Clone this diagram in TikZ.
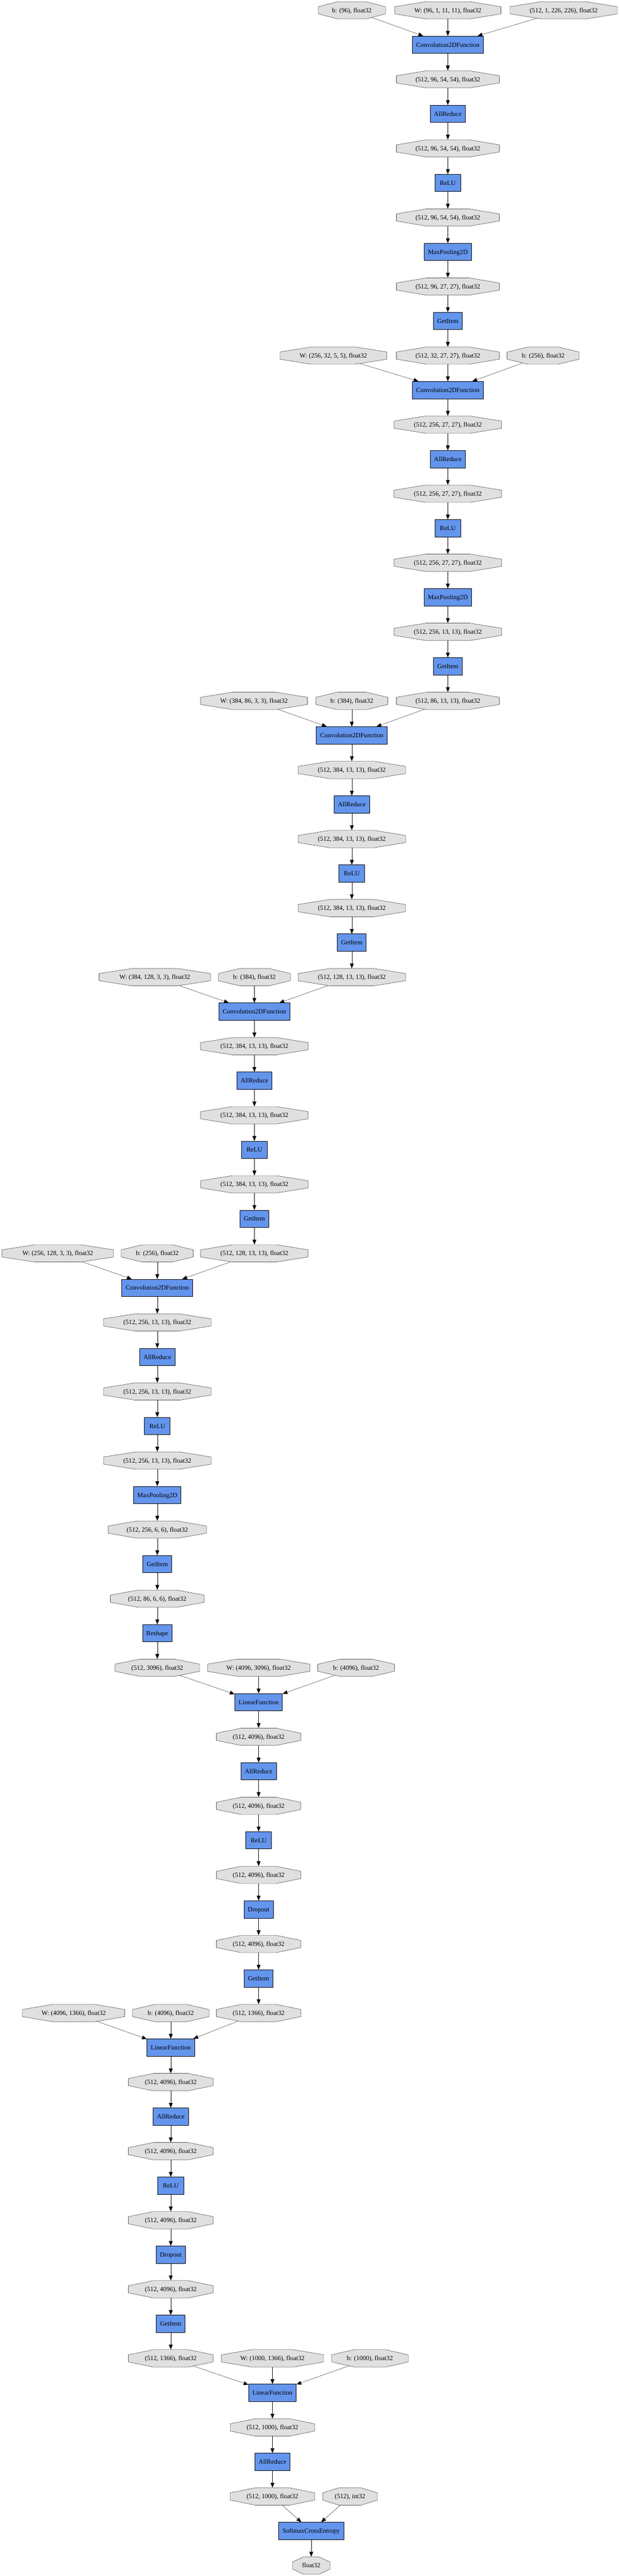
\documentclass[tikz,border=0pt]{standalone}
\usepackage{fontspec}
\setmainfont{Liberation Serif}
\usetikzlibrary{arrows.meta,calc,backgrounds}
\definecolor{funcblue}{HTML}{6495ED}
\definecolor{vargray}{HTML}{E0E0E0}
\tikzset{
	func/.style={
		rectangle, draw, fill=funcblue,
		font=\fontsize{13.5}{16}\selectfont,
		minimum width=54pt, minimum height=36pt,
		inner xsep=8pt, inner ysep=0pt,
		text height=8.9pt, text depth=0pt,
	},
	var/.style={
		rectangle,
		font=\fontsize{13.5}{16}\selectfont,
		minimum height=36pt,
		inner xsep=8pt, inner ysep=0pt,
		text height=8.9pt, text depth=0pt,
	},
	octa/.style={
		draw, fill=vargray,
	},
	line/.style={
		draw, -{Triangle[length=10pt,width=8pt]},
	}
}

\begin{document}
\begin{tikzpicture}[x=0.7397pt, y=-72pt, line width=1pt]
\useasboundingbox (0,0.702) rectangle (1747,75.304);
% conv1
\node [var] (b1) at (993,1) {b: (96), float32};
\node [var] (w1) at (1264,1) {W: (96, 1, 11, 11), float32};
\node [var] (x0) at (1591,1) {(512, 1, 226, 226), float32};
\node [func] (conv1) at (1264,2) {Convolution2DFunction};
\node [var] (v1a) at (1264,3) {(512, 96, 54, 54), float32};
\node [func] (ar1) at (1264,4) {AllReduce};
\node [var] (v1b) at (1264,5) {(512, 96, 54, 54), float32};
\node [func] (relu1) at (1264,6) {ReLU};
\node [var] (v1c) at (1264,7) {(512, 96, 54, 54), float32};
\node [func] (pool1) at (1264,8) {MaxPooling2D};
\node [var] (v1d) at (1264,9) {(512, 96, 27, 27), float32};
\node [func] (get1) at (1264,10) {GetItem};
% conv2
\node [var] (w2) at (941,11) {W: (256, 32, 5, 5), float32};
\node [var] (v1e) at (1264,11) {(512, 32, 27, 27), float32};
\node [var] (b2) at (1533,11) {b: (256), float32};
\node [func] (conv2) at (1264,12) {Convolution2DFunction};
\node [var] (v2a) at (1264,13) {(512, 256, 27, 27), float32};
\node [func] (ar2) at (1264,14) {AllReduce};
\node [var] (v2b) at (1264,15) {(512, 256, 27, 27), float32};
\node [func] (relu2) at (1264,16) {ReLU};
\node [var] (v2c) at (1264,17) {(512, 256, 27, 27), float32};
\node [func] (pool2) at (1264,18) {MaxPooling2D};
\node [var] (v2d) at (1264,19) {(512, 256, 13, 13), float32};
\node [func] (get2) at (1264,20) {GetItem};
% conv3
\node [var] (w3) at (717,21) {W: (384, 86, 3, 3), float32};
\node [var] (b3) at (993,21) {b: (384), float32};
\node [var] (v2e) at (1264,21) {(512, 86, 13, 13), float32};
\node [func] (conv3) at (993,22) {Convolution2DFunction};
\node [var] (v3a) at (993,23) {(512, 384, 13, 13), float32};
\node [func] (ar3) at (993,24) {AllReduce};
\node [var] (v3b) at (993,25) {(512, 384, 13, 13), float32};
\node [func] (relu3) at (993,26) {ReLU};
\node [var] (v3c) at (993,27) {(512, 384, 13, 13), float32};
\node [func] (get3) at (993,28) {GetItem};
% conv4
\node [var] (w4) at (437,29) {W: (384, 128, 3, 3), float32};
\node [var] (b4) at (718,29) {b: (384), float32};
\node [var] (v3d) at (993,29) {(512, 128, 13, 13), float32};
\node [func] (conv4) at (718,30) {Convolution2DFunction};
\node [var] (v4a) at (718,31) {(512, 384, 13, 13), float32};
\node [func] (ar4) at (718,32) {AllReduce};
\node [var] (v4b) at (718,33) {(512, 384, 13, 13), float32};
\node [func] (relu4) at (718,34) {ReLU};
\node [var] (v4c) at (718,35) {(512, 384, 13, 13), float32};
\node [func] (get4) at (718,36) {GetItem};
% conv5
\node [var] (w5) at (163,37) {W: (256, 128, 3, 3), float32};
\node [var] (b5) at (444,37) {b: (256), float32};
\node [var] (v4d) at (718,37) {(512, 128, 13, 13), float32};
\node [func] (conv5) at (444,38) {Convolution2DFunction};
\node [var] (v5a) at (444,39) {(512, 256, 13, 13), float32};
\node [func] (ar5) at (444,40) {AllReduce};
\node [var] (v5b) at (444,41) {(512, 256, 13, 13), float32};
\node [func] (relu5) at (444,42) {ReLU};
\node [var] (v5c) at (444,43) {(512, 256, 13, 13), float32};
\node [func] (pool5) at (444,44) {MaxPooling2D};
\node [var] (v5d) at (444,45) {(512, 256, 6, 6), float32};
\node [func] (get5) at (444,46) {GetItem};
\node [var] (v5e) at (444,47) {(512, 86, 6, 6), float32};
\node [func] (reshape) at (444,48) {Reshape};
% fc6
\node [var] (v5f) at (444,49) {(512, 3096), float32};
\node [var] (w6) at (730,49) {W: (4096, 3096), float32};
\node [var] (b6) at (1005,49) {b: (4096), float32};
\node [func] (fc6) at (730,50) {LinearFunction};
\node [var] (v6a) at (730,51) {(512, 4096), float32};
\node [func] (ar6) at (730,52) {AllReduce};
\node [var] (v6b) at (730,53) {(512, 4096), float32};
\node [func] (relu6) at (730,54) {ReLU};
\node [var] (v6c) at (730,55) {(512, 4096), float32};
\node [func] (drop6) at (730,56) {Dropout};
\node [var] (v6d) at (730,57) {(512, 4096), float32};
\node [func] (get6) at (730,58) {GetItem};
% fc7
\node [var] (w7) at (208,59) {W: (4096, 1366), float32};
\node [var] (b7) at (482,59) {b: (4096), float32};
\node [var] (v6e) at (730,59) {(512, 1366), float32};
\node [func] (fc7) at (482,60) {LinearFunction};
\node [var] (v7a) at (482,61) {(512, 4096), float32};
\node [func] (ar7) at (482,62) {AllReduce};
\node [var] (v7b) at (482,63) {(512, 4096), float32};
\node [func] (relu7) at (482,64) {ReLU};
\node [var] (v7c) at (482,65) {(512, 4096), float32};
\node [func] (drop7) at (482,66) {Dropout};
\node [var] (v7d) at (482,67) {(512, 4096), float32};
\node [func] (get7) at (482,68) {GetItem};
% fc8 and loss
\node [var] (v7e) at (482,69) {(512, 1366), float32};
\node [var] (w8) at (769,69) {W: (1000, 1366), float32};
\node [var] (b8) at (1044,69) {b: (1000), float32};
\node [func] (fc8) at (769,70) {LinearFunction};
\node [var] (v8a) at (769,71) {(512, 1000), float32};
\node [func] (ar8) at (769,72) {AllReduce};
\node [var] (v8b) at (769,73) {(512, 1000), float32};
\node [var] (t) at (988,73) {(512), int32};
\node [func] (loss) at (878.5,74) {SoftmaxCrossEntropy};
\node [var] (out) at (878.5,75) {float32};

\begin{scope}[on background layer]
% Edges
\foreach \a/\b in {b1/conv1, w1/conv1, x0/conv1, conv1/v1a, v1a/ar1, ar1/v1b, v1b/relu1, relu1/v1c, v1c/pool1, pool1/v1d, v1d/get1, get1/v1e,
	w2/conv2, v1e/conv2, b2/conv2, conv2/v2a, v2a/ar2, ar2/v2b, v2b/relu2, relu2/v2c, v2c/pool2, pool2/v2d, v2d/get2, get2/v2e,
	w3/conv3, b3/conv3, v2e/conv3, conv3/v3a, v3a/ar3, ar3/v3b, v3b/relu3, relu3/v3c, v3c/get3, get3/v3d,
	w4/conv4, b4/conv4, v3d/conv4, conv4/v4a, v4a/ar4, ar4/v4b, v4b/relu4, relu4/v4c, v4c/get4, get4/v4d,
	w5/conv5, b5/conv5, v4d/conv5, conv5/v5a, v5a/ar5, ar5/v5b, v5b/relu5, relu5/v5c, v5c/pool5, pool5/v5d, v5d/get5, get5/v5e, v5e/reshape, reshape/v5f,
	v5f/fc6, w6/fc6, b6/fc6, fc6/v6a, v6a/ar6, ar6/v6b, v6b/relu6, relu6/v6c, v6c/drop6, drop6/v6d, v6d/get6, get6/v6e,
	w7/fc7, b7/fc7, v6e/fc7, fc7/v7a, v7a/ar7, ar7/v7b, v7b/relu7, relu7/v7c, v7c/drop7, drop7/v7d, v7d/get7, get7/v7e,
	v7e/fc8, w8/fc8, b8/fc8, fc8/v8a, v8a/ar8, ar8/v8b, v8b/loss, t/loss, loss/out}
	\draw[line] (\a.center) -- (\b);
% Octagons
\foreach \v in {b1, w1, x0, v1a, v1b, v1c, v1d, w2, v1e, b2, v2a, v2b, v2c, v2d,
	w3, b3, v2e, v3a, v3b, v3c, w4, b4, v3d, v4a, v4b, v4c,
	w5, b5, v4d, v5a, v5b, v5c, v5d, v5e, v5f, w6, b6, v6a, v6b, v6c, v6d,
	w7, b7, v6e, v7a, v7b, v7c, v7d, v7e, w8, b8, v8a, v8b, t, out}
	\filldraw[octa] let \p1=($(\v.east)-(\v.center)$) in
		($(\v.center)+(0.5855*\x1,18pt)$) -- ($(\v.center)+(1.414*\x1,7.45pt)$)
		-- ($(\v.center)+(1.414*\x1,-7.45pt)$) -- ($(\v.center)+(0.5855*\x1,-18pt)$)
		-- ($(\v.center)+(-0.5855*\x1,-18pt)$) -- ($(\v.center)+(-1.414*\x1,-7.45pt)$)
		-- ($(\v.center)+(-1.414*\x1,7.45pt)$) -- ($(\v.center)+(-0.5855*\x1,18pt)$) -- cycle;
\end{scope}
\end{tikzpicture}
\end{document}
